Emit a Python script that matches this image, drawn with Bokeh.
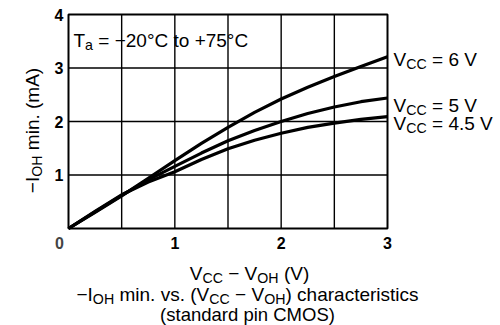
import math
from bokeh.plotting import figure
from bokeh.models import Label, FixedTicker, Range1d
from bokeh.embed import file_html
from bokeh.resources import INLINE

# ---- data ----
v_diff = [0, 0.25, 0.5, 0.75, 1.0, 1.25, 1.5, 1.75, 2.0, 2.25, 2.5, 2.75, 3.0]
ioh_6v = [0, 0.30, 0.61, 0.94, 1.27, 1.59, 1.89, 2.17, 2.42, 2.64, 2.84, 3.03, 3.21]
ioh_5v = [0, 0.31, 0.62, 0.91, 1.16, 1.41, 1.64, 1.83, 2.00, 2.15, 2.27, 2.37, 2.44]
ioh_45v = [0, 0.32, 0.63, 0.87, 1.06, 1.29, 1.49, 1.65, 1.78, 1.89, 1.97, 2.04, 2.09]
vcc_labels = ["6", "5", "4.5"]
x_ticks = [1, 2, 3]
y_ticks = [1, 2, 3, 4]
x_grid = [0.5, 1, 1.5, 2, 2.5]
y_grid = [1, 2, 3]
temp_text = " = −20°C to +75°C"
caption2 = "(standard pin CMOS)"

# ---- layout (pixel geometry of the reference) ----
WIDTH, HEIGHT = 500, 325
X0_PX, X3_PX = 68, 387      # x = 0 and x = 3
Y0_PX, Y4_PX = 228, 14      # y = 0 and y = 4
XU = (X3_PX - X0_PX) / 3.0
YU = (Y0_PX - Y4_PX) / 4.0


def dx(px):
    return (px - X0_PX) / XU


def dy(py):
    return (Y0_PX - py) / YU


FONT = "Liberation Sans"
W = {' ': 278, '(': 333, ')': 333, '.': 278, '−': 584, '=': 584, '+': 584, '°': 400,
     'A': 667, 'C': 722, 'H': 722, 'I': 278, 'M': 833, 'O': 778, 'S': 667, 'T': 611,
     'V': 667, 'a': 556, 'c': 500, 'd': 556, 'e': 556, 'h': 556, 'i': 222, 'm': 833,
     'n': 556, 'o': 556, 'p': 556, 'r': 333, 's': 500, 't': 278, 'v': 500, 'l': 222}
for d in "0123456789":
    W[d] = 556


def tw(s, size):
    return sum(W.get(ch, 556) for ch in s) * size / 1000.0


def draw_text(p, x, y, segs, size, align="left", vertical=False):
    sub_size = size * 0.75
    widths = [tw(t, sub_size if s else size) for t, s in segs]
    total = sum(widths)
    off = -total / 2 if align == "center" else 0
    for (t, s), w in zip(segs, widths):
        fs = sub_size if s else size
        shift = size * 0.22 if s else 0
        lead = len(t) - len(t.lstrip(" "))
        o = off + tw(" " * lead, fs)
        txt = t.strip(" ")
        if vertical:
            lab = Label(x=x, y=y, x_offset=shift, y_offset=o, angle=math.pi / 2,
                        text=txt, text_font=FONT, text_font_size=f"{fs:.1f}px",
                        text_align="left", text_baseline="alphabetic", text_color="black")
        else:
            lab = Label(x=x, y=y, x_offset=o, y_offset=-shift,
                        text=txt, text_font=FONT, text_font_size=f"{fs:.1f}px",
                        text_align="left", text_baseline="alphabetic", text_color="black")
        p.add_layout(lab)
        off += w


p = figure(width=WIDTH, height=HEIGHT, output_backend="svg", toolbar_location=None,
           x_range=Range1d(dx(0), dx(WIDTH)), y_range=Range1d(dy(HEIGHT), dy(0)),
           min_border=0, min_border_left=0, min_border_right=0,
           min_border_top=0, min_border_bottom=0)
p.background_fill_color = "white"
p.border_fill_color = "white"
p.outline_line_color = None
p.grid.visible = False

x_max = max(x_ticks)
y_max = max(y_ticks)

# grid lines and plot box
p.segment(x0=x_grid, y0=[0] * len(x_grid), x1=x_grid, y1=[y_max] * len(x_grid),
          line_color="black", line_width=1.4)
p.segment(x0=[0] * len(y_grid), y0=y_grid, x1=[x_max] * len(y_grid), y1=y_grid,
          line_color="black", line_width=1.4)
p.quad(left=[0], right=[x_max], bottom=[0], top=[y_max], fill_color=None,
       line_color="black", line_width=2)

for ax, ticks in ((p.xaxis, x_ticks), (p.yaxis, y_ticks)):
    ax.ticker = FixedTicker(ticks=ticks)
    ax.fixed_location = 0
    ax.axis_line_color = None
    ax.major_tick_line_color = None
    ax.minor_tick_line_color = None
    ax.major_tick_out = 0
    ax.major_tick_in = 0
    ax.major_label_text_font = FONT
    ax.major_label_text_font_size = "16px"
    ax.major_label_text_font_style = "bold"
    ax.major_label_text_color = "black"
p.xaxis.major_label_standoff = 8
p.yaxis.major_label_standoff = 5

for ys in (ioh_6v, ioh_5v, ioh_45v):
    p.line(v_diff, ys, line_color="black", line_width=3.2, line_join="round")

# corner "0"
p.add_layout(Label(x=dx(59), y=dy(242), text="0", text_font=FONT, text_font_size="16px",
                   text_font_style="bold", text_align="center", text_baseline="middle"))

# curve labels
label_base_px = [59, 105, 123]
for v, by in zip(vcc_labels, label_base_px):
    draw_text(p, dx(393), dy(by), [("V", 0), ("CC", 1), (f" = {v} V", 0)], 19)

draw_text(p, dx(73), dy(40), [("T", 0), ("a", 1), (temp_text, 0)], 19)

draw_text(p, dx(249), dy(273), [("V", 0), ("CC", 1), (" − V", 0), ("OH", 1), (" (V)", 0)],
          19, align="center")
draw_text(p, dx(247), dy(294), [("−I", 0), ("OH", 1), (" min. vs. (V", 0), ("CC", 1), (" − V", 0),
                                ("OH", 1), (") characteristics", 0)], 19, align="center")
draw_text(p, dx(247), dy(314), [(caption2, 0)], 18.5, align="center")

draw_text(p, dx(32), dy(130), [("−I", 0), ("OH", 1), (" min. (mA)", 0)], 19,
          align="center", vertical=True)

open("out.html", "w").write(file_html(p, INLINE))
